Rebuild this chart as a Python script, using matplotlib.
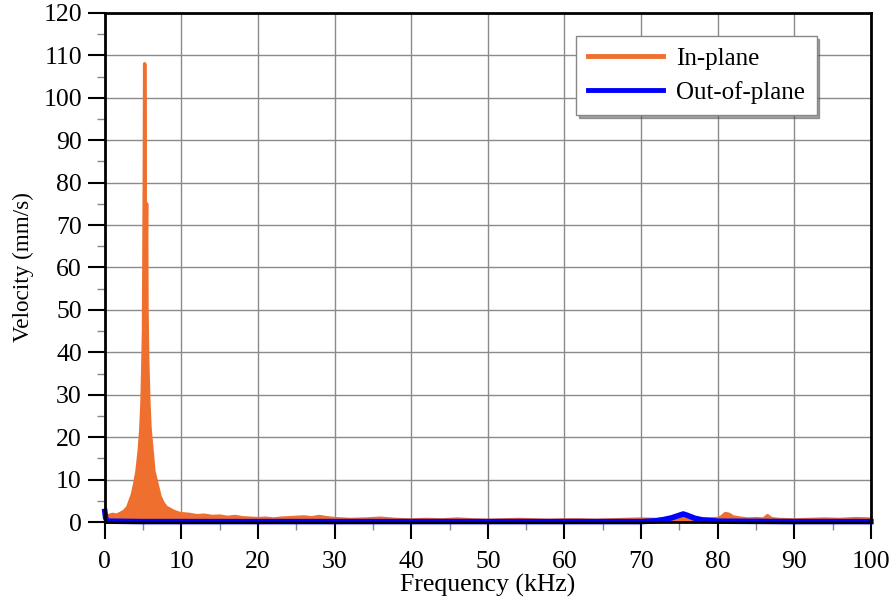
import matplotlib.pyplot as plt

plt.rcParams['font.family'] = ['Liberation Serif', 'DejaVu Serif']

# In-plane spectrum (kHz, mm/s)
freq_in = [0, 0.5, 1, 1.5, 2, 2.5, 3, 3.3, 3.6, 3.9, 4.2, 4.5, 4.7, 4.85, 4.95,
           5.05, 5.15, 5.2, 5.25, 5.3, 5.35, 5.45, 5.5, 5.6, 5.75, 5.9, 6.1,
           6.4, 6.8, 7.2, 7.6, 8, 8.5, 9, 9.8, 11, 12, 13, 14, 15, 16, 17, 18,
           19, 20, 21, 22, 23, 24, 25, 26, 27, 28, 29, 30, 32, 34, 36, 38, 40,
           42, 44, 46, 48, 50, 52, 54, 56, 58, 60, 62, 64, 66, 68, 70, 72, 74,
           76, 78, 80, 80.5, 81, 81.5, 82, 83, 84, 85, 86, 86.5, 87, 88, 90,
           92, 94, 96, 98, 100]
vel_in = [1.0, 1.5, 1.8, 1.6, 2.0, 2.5, 3.5, 5.0, 6.5, 9.0, 12, 17, 22, 28, 36,
          45, 80, 108, 90, 65, 55, 75, 50, 38, 28, 22, 18,
          12, 9, 6, 4.5, 3.5, 3.0, 2.5, 2.0, 1.8, 1.5, 1.6, 1.3, 1.4, 1.1, 1.3, 1.0,
          0.9, 0.8, 0.9, 0.7, 0.9, 1.0, 1.1, 1.2, 1.0, 1.3, 1.0, 0.8, 0.6, 0.7, 0.9, 0.6, 0.5,
          0.6, 0.5, 0.7, 0.5, 0.4, 0.5, 0.6, 0.5, 0.4, 0.5, 0.5, 0.4, 0.5, 0.6, 0.7, 0.6, 0.8,
          0.9, 0.7, 0.8, 1.2, 2.0, 1.8, 1.2, 0.9, 0.7, 0.8, 0.7, 1.5, 0.8, 0.6, 0.5,
          0.6, 0.7, 0.6, 0.8, 0.7]

# Out-of-plane spectrum
freq_out = [0, 0.1, 0.3, 5, 20, 40, 60, 70, 72, 73, 74, 75, 75.5, 76, 77, 78, 80, 90, 100]
vel_out = [2.5, 1.0, 0.2, 0.1, 0.1, 0.1, 0.1, 0.1, 0.3, 0.6, 1.0, 1.6, 1.9, 1.6, 0.9, 0.5, 0.2, 0.1, 0.1]

orange = '#ee6f2e'
blue = '#0000ff'

fig = plt.figure(figsize=(8.96, 6.12), dpi=100)
ax = fig.add_axes([0.117, 0.147, 0.855, 0.832])

ax.fill_between(freq_in, 0, vel_in, color=orange, lw=0)
ax.plot(freq_in, vel_in, color=orange, lw=2.5, label='In-plane')
ax.plot(freq_out, vel_out, color=blue, lw=4, label='Out-of-plane', clip_on=False)

ax.set_xlim(0, 100)
ax.set_ylim(0, 120)
ax.set_xticks(range(0, 101, 10))
ax.set_yticks(range(0, 121, 10))
ax.set_xticks(range(5, 100, 10), minor=True)
ax.set_yticks(range(5, 120, 10), minor=True)
ax.tick_params(which='major', direction='out', length=12.5, width=1.5, labelsize=18.5)
ax.tick_params(axis='x', which='major', pad=8)
ax.tick_params(axis='y', which='major', pad=4)
ax.tick_params(which='minor', direction='out', length=6, width=1, color='#888888')
ax.grid(True, which='major', color='#8a8a8a', lw=1)
ax.set_axisbelow(True)
for s in ax.spines.values():
    s.set_linewidth(2)

ax.set_xlabel('Frequency (kHz)', fontsize=18.5, labelpad=1)
ax.set_ylabel('Velocity (mm/s)', fontsize=16.7, labelpad=7)

leg = ax.legend(loc='upper right', bbox_to_anchor=(0.929, 0.955), borderaxespad=0,
                fontsize=18, fancybox=False, shadow=True, framealpha=1,
                edgecolor='#888888', handlelength=3.0, handletextpad=0.55,
                borderpad=0.45, labelspacing=0.45)
for line in leg.get_lines():
    line.set_linewidth(3.5)

fig.savefig('out.png', dpi=100)
